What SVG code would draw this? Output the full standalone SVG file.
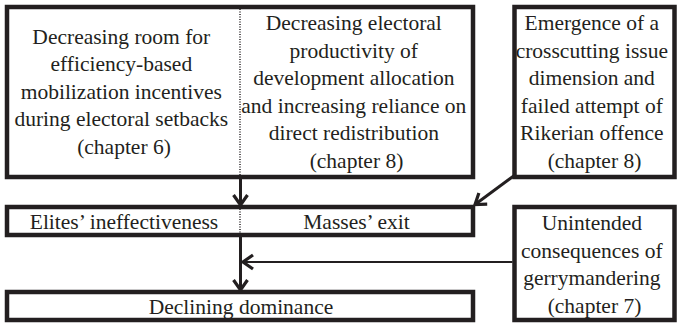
<svg xmlns="http://www.w3.org/2000/svg" width="677" height="323" viewBox="0 0 677 323">
  <style>
    .box { fill: #ffffff; stroke: #231f20; stroke-width: 4.5; }
    .dot { stroke: #231f20; stroke-width: 1.5; stroke-dasharray: 1 1.5; fill: none; }
    .t { font-family: "Liberation Serif", "Times New Roman", serif; font-size: 21.5px; fill: #231f20; text-anchor: middle; }
    .arr { stroke: #231f20; fill: none; marker-end: url(#ah); }
  </style>
  <defs>
    <marker id="ah" markerUnits="userSpaceOnUse" markerWidth="18" markerHeight="18" viewBox="0 0 18 18" refX="15" refY="9" orient="auto">
      <path d="M5,2 L15,9 L5,16" fill="none" stroke="#231f20" stroke-width="3.2" stroke-linejoin="miter"/>
    </marker>
  </defs>

  <g id="node-top-left">
    <rect class="box" x="7" y="7" width="466" height="170"/>
    <line class="dot" x1="240" y1="9" x2="240" y2="175"/>
    <text class="t">
      <tspan x="124" y="43.5">Decreasing room for</tspan>
      <tspan x="124" y="71">efficiency-based</tspan>
      <tspan x="124" y="98.5">mobilization incentives</tspan>
      <tspan x="124" y="126">during electoral setbacks</tspan>
      <tspan x="124" y="153.5">(chapter 6)</tspan>
    </text>
    <text class="t">
      <tspan x="356.5" y="30">Decreasing electoral</tspan>
      <tspan x="356.5" y="57.5">productivity of</tspan>
      <tspan x="356.5" y="85">development allocation</tspan>
      <tspan x="356.5" y="112.5">and increasing reliance on</tspan>
      <tspan x="356.5" y="140">direct redistribution</tspan>
      <tspan x="356.5" y="167.5">(chapter 8)</tspan>
    </text>
  </g>

  <g id="node-top-right">
    <rect class="box" x="514.5" y="7" width="160" height="170"/>
    <text class="t">
      <tspan x="594.5" y="30">Emergence of a</tspan>
      <tspan x="594.5" y="57.5">crosscutting issue</tspan>
      <tspan x="594.5" y="85">dimension and</tspan>
      <tspan x="594.5" y="112.5">failed attempt of</tspan>
      <tspan x="594.5" y="140">Rikerian offence</tspan>
      <tspan x="594.5" y="167.5">(chapter 8)</tspan>
    </text>
  </g>

  <g id="node-middle">
    <rect class="box" x="7" y="207" width="466" height="28"/>
    <line class="dot" x1="240" y1="209" x2="240" y2="233"/>
    <text class="t" x="124" y="228.5">Elites’ ineffectiveness</text>
    <text class="t" x="356.5" y="228.5">Masses’ exit</text>
  </g>

  <g id="node-bottom-right">
    <rect class="box" x="514.5" y="207" width="160" height="113"/>
    <text class="t">
      <tspan x="594.5" y="230">Unintended</tspan>
      <tspan x="594.5" y="257.5">consequences of</tspan>
      <tspan x="594.5" y="285">gerrymandering</tspan>
      <tspan x="594.5" y="312.5">(chapter 7)</tspan>
    </text>
  </g>

  <g id="node-bottom">
    <rect class="box" x="7" y="292" width="466" height="28"/>
    <text class="t" x="241" y="313.5">Declining dominance</text>
  </g>

  <g id="connectors">
    <line class="arr" x1="240.5" y1="179" x2="240.5" y2="205" stroke-width="3"/>
    <line class="arr" x1="240.5" y1="237" x2="240.5" y2="290" stroke-width="3"/>
    <line class="arr" x1="512.5" y1="262" x2="243" y2="262" stroke-width="2"/>
    <line class="arr" x1="515" y1="175" x2="475" y2="204.5" stroke-width="3"/>
  </g>
</svg>
